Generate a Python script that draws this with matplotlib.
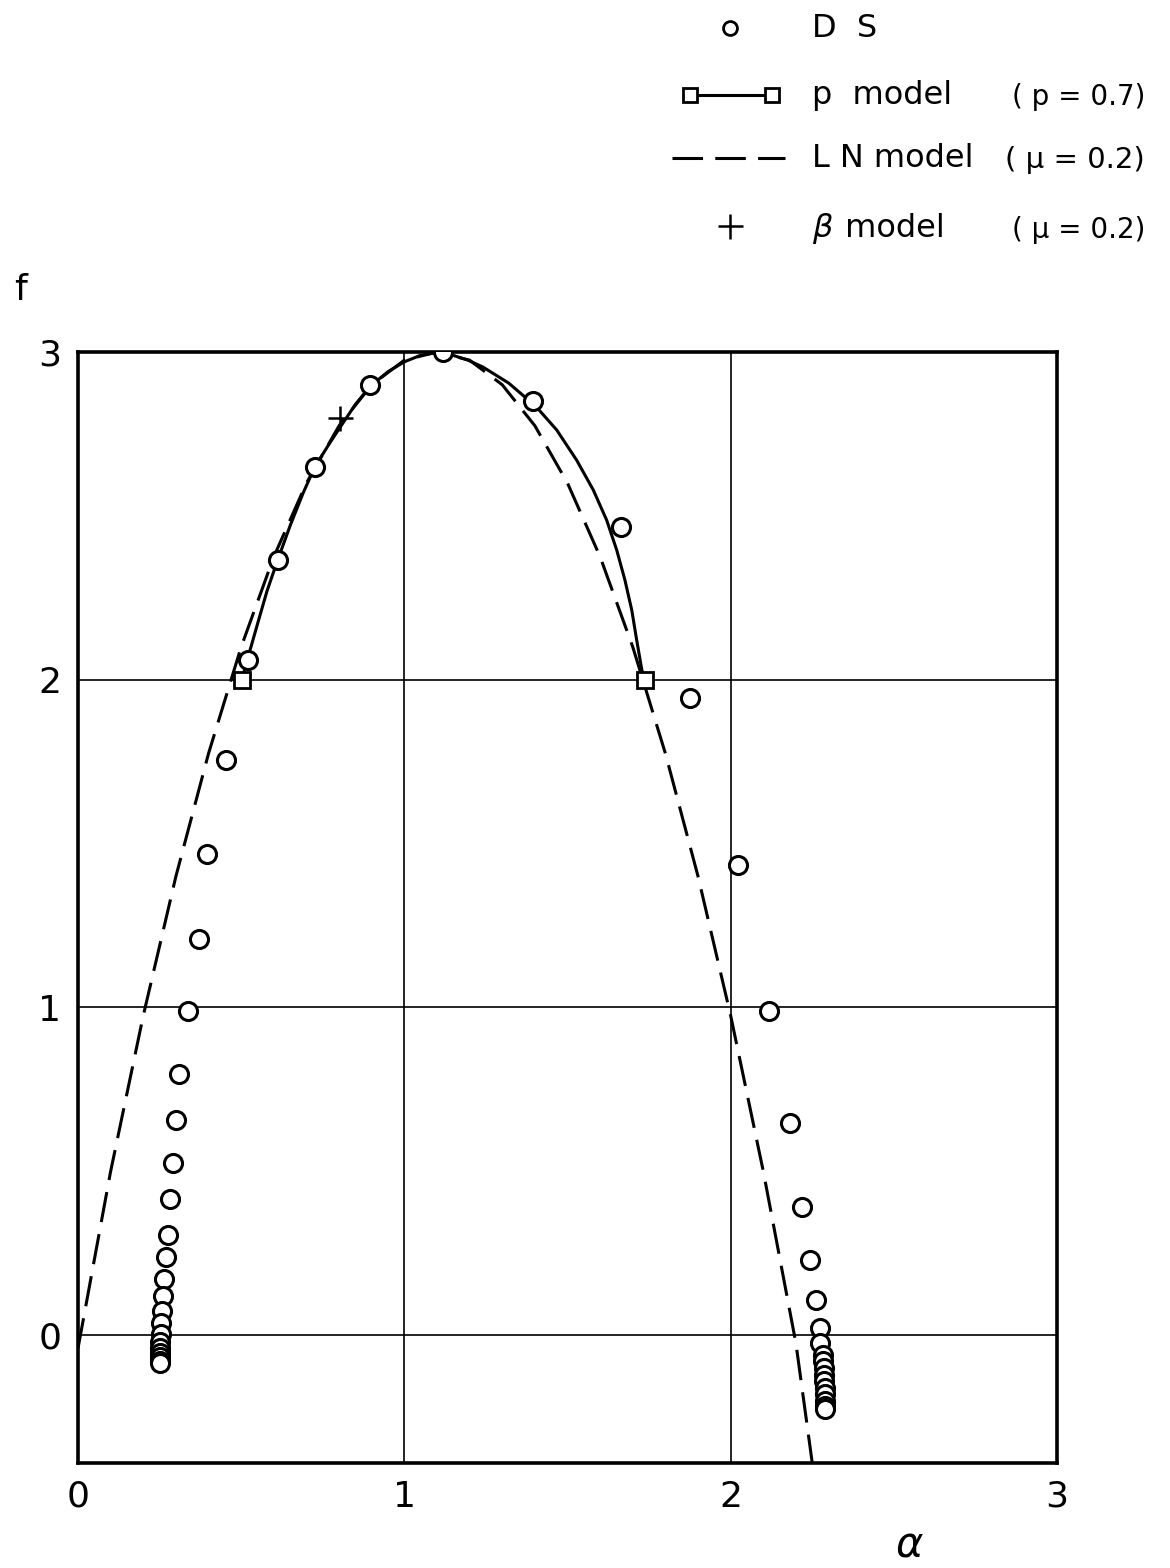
import numpy as np
import matplotlib
matplotlib.use('Agg')
import matplotlib.pyplot as plt
from matplotlib.lines import Line2D

plt.rcParams['font.family'] = ['DejaVu Sans']

# D S data (alpha, f)
DS_ALPHA = [1.118, 0.895, 0.726, 0.613, 0.521, 0.454, 0.395, 0.371, 0.337, 0.310,
            0.300, 0.291, 0.282, 0.276, 0.270, 0.264, 0.260, 0.256, 0.254, 0.253,
            0.252, 0.252, 0.252, 0.252, 0.252, 0.252,
            1.395, 1.664, 1.876, 2.023, 2.118, 2.181, 2.219, 2.243, 2.262, 2.273,
            2.273, 2.283, 2.284, 2.285, 2.286, 2.287, 2.288, 2.289, 2.290, 2.290, 2.290]
DS_F = [3.0, 2.90, 2.65, 2.365, 2.06, 1.755, 1.468, 1.208, 0.989, 0.796,
        0.656, 0.525, 0.415, 0.305, 0.238, 0.171, 0.119, 0.075, 0.036, 0.005,
        -0.02, -0.04, -0.055, -0.068, -0.078, -0.085,
        2.85, 2.466, 1.944, 1.434, 0.989, 0.647, 0.391, 0.229, 0.107, 0.022,
        -0.024, -0.06, -0.08, -0.10, -0.12, -0.14, -0.16, -0.18, -0.20, -0.215, -0.225]

# p model (p = 0.7)
P_ALPHA = [0.503, 0.515, 0.53, 0.55, 0.579, 0.61, 0.65, 0.69, 0.726, 0.77, 0.803,
           0.85, 0.895, 0.95, 1.0, 1.05, 1.11, 1.149, 1.195, 1.241, 1.32, 1.404,
           1.467, 1.528, 1.579, 1.620, 1.651, 1.676, 1.697, 1.712, 1.728, 1.738]
P_F = [2.0, 2.05, 2.1, 2.17, 2.27, 2.36, 2.47, 2.57, 2.65, 2.72, 2.77,
       2.84, 2.895, 2.94, 2.97, 2.99, 3.0, 2.99, 2.975, 2.954, 2.905, 2.833,
       2.762, 2.670, 2.579, 2.487, 2.395, 2.304, 2.212, 2.121, 2.029, 2.0]
P_ENDS_ALPHA = [0.503, 1.738]
P_ENDS_F = [2.0, 2.0]

# L N model (mu = 0.2)
LN_ALPHA = [0.0, 0.1, 0.2, 0.3, 0.4, 0.5, 0.6, 0.7, 0.8, 0.9, 1.0, 1.1,
            1.2, 1.3, 1.4, 1.5, 1.6, 1.7, 1.8, 1.9, 2.0, 2.1, 2.2, 2.25]
LN_F = [-0.04, 0.5, 0.975, 1.4, 1.775, 2.1, 2.375, 2.6, 2.775, 2.9, 2.975, 3.0,
        2.975, 2.9, 2.775, 2.6, 2.375, 2.1, 1.775, 1.4, 0.975, 0.5, -0.025, -0.39]

# beta model (mu = 0.2)
BETA_ALPHA = [0.803]
BETA_F = [2.80]

TICKS = [0, 1, 2, 3]

fig = plt.figure(figsize=(11.7, 15.68), dpi=100)
ax = fig.add_axes([78 / 1170, 1 - 1463 / 1568, (1057 - 78) / 1170, (1463 - 352) / 1568])

for v in [1, 2]:
    ax.axvline(v, color='black', lw=1.2, zorder=1)
for v in [0, 1, 2]:
    ax.axhline(v, color='black', lw=1.2, zorder=1)

ax.plot(LN_ALPHA, LN_F, color='black', lw=2.2, dashes=(10, 4), zorder=2)
ax.plot(P_ALPHA, P_F, color='black', lw=2.2, zorder=3)
ax.plot(P_ENDS_ALPHA, P_ENDS_F, ls='none', marker='s', ms=11, mfc='white',
        mec='black', mew=2, zorder=4)
ax.plot(DS_ALPHA, DS_F, ls='none', marker='o', ms=13, mfc='white',
        mec='black', mew=2.2, zorder=5)
ax.plot(BETA_ALPHA, BETA_F, ls='none', marker='+', ms=18, mec='black',
        mew=1.8, zorder=5)

ax.set_xlim(0, 3)
ax.set_ylim(-0.39, 3)
ax.set_xticks(TICKS)
ax.set_yticks(TICKS)
ax.set_xticklabels([str(t) for t in TICKS])
ax.set_yticklabels([str(t) for t in TICKS])
ax.tick_params(length=0, labelsize=26, pad=12)
for s in ax.spines.values():
    s.set_linewidth(2.6)

fig.text(20 / 1170, 1 - 290 / 1568, 'f', fontsize=26, ha='center', va='center')
fig.text(910 / 1170, 1 - 1545 / 1568, 'α', fontsize=30, style='italic',
         ha='center', va='center')

# legend block drawn by hand
lax = fig.add_axes([0, 0, 1, 1])
lax.set_xlim(0, 1170)
lax.set_ylim(1568, 0)
lax.axis('off')

lax.add_line(Line2D([730], [28], ls='none', marker='o', ms=10, mfc='white',
                    mec='black', mew=2))
lax.add_line(Line2D([690, 772], [95, 95], color='black', lw=2.2, marker='s',
                    ms=10, mfc='white', mec='black', mew=2))
lax.add_line(Line2D([672, 785], [158, 158], color='black', lw=2.2, dashes=(10, 4)))
lax.add_line(Line2D([730], [226], ls='none', marker='+', ms=18, mec='black', mew=1.8))

fs = 23
pfs = 20
lax.text(812, 28, 'D  S', fontsize=fs, va='center')
lax.text(812, 95, 'p  model', fontsize=fs, va='center')
lax.text(1145, 97, '( p = 0.7)', fontsize=pfs, va='center', ha='right')
lax.text(812, 158, 'L N model', fontsize=fs, va='center')
lax.text(1145, 160, '( μ = 0.2)', fontsize=21, va='center', ha='right')
lax.text(812, 228, 'β', fontsize=fs, style='italic', va='center')
lax.text(835, 228, ' model', fontsize=fs, va='center')
lax.text(1145, 230, '( μ = 0.2)', fontsize=pfs, va='center', ha='right')

fig.savefig('out.png', dpi=100)
